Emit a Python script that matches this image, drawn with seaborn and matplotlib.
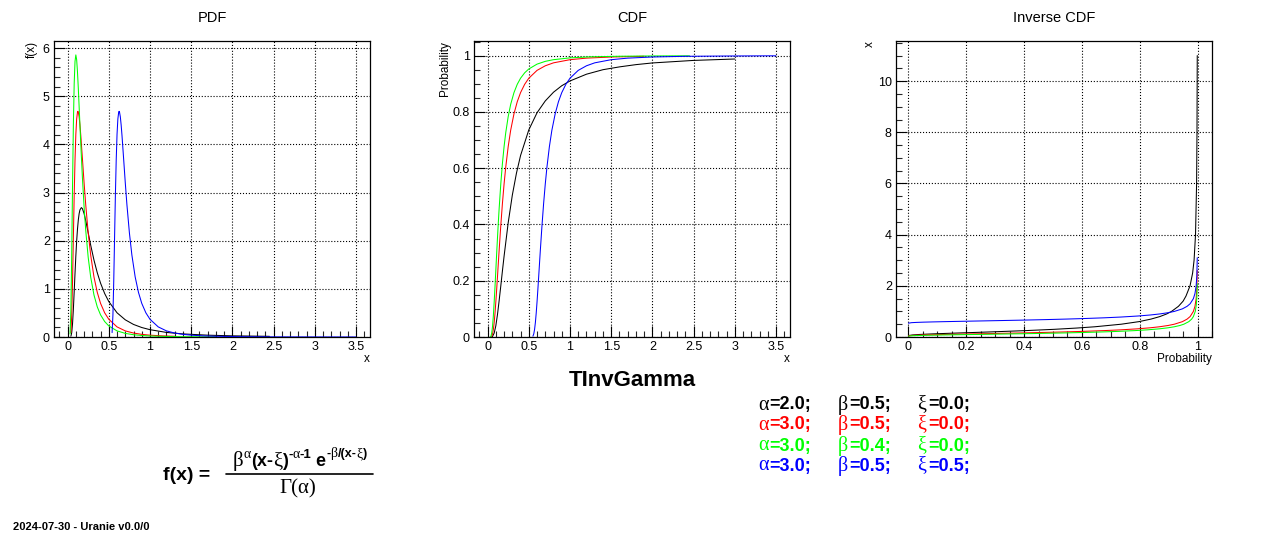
import pandas as pd
import matplotlib
matplotlib.use("Agg")
import matplotlib.pyplot as plt
import seaborn as sns
from matplotlib.lines import Line2D
from matplotlib.ticker import MultipleLocator, FormatStrFormatter

# Curve labels / colours (ROOT kBlack, kRed, kGreen, kBlue)
curves = ['a2_b05_x0', 'a3_b05_x0', 'a3_b04_x0', 'a3_b05_x05']
colors = ['#000000', '#ff0000', '#00ff00', '#0000ff']
alphas = ['2.0', '3.0', '3.0', '3.0']
betas = ['0.5', '0.5', '0.4', '0.5']
xis = ['0.0', '0.0', '0.0', '0.5']

# PDF values
pdf_black_x = [0.04, 0.05, 0.06, 0.07, 0.08, 0.09, 0.10, 0.11, 0.12, 0.13, 0.14, 0.15, 0.167, 0.18, 0.20,
               0.22, 0.25, 0.28, 0.32, 0.36, 0.40, 0.45, 0.5, 0.6, 0.7, 0.8, 0.9, 1.0, 1.2, 1.4, 1.7, 2.0, 2.45]
pdf_black_y = [0.015, 0.091, 0.278, 0.576, 0.942, 1.324, 1.684, 1.993, 2.242, 2.431, 2.562, 2.642, 2.689, 2.666, 2.565,
               2.418, 2.165, 1.910, 1.599, 1.336, 1.119, 0.903, 0.736, 0.503, 0.357, 0.261, 0.197, 0.152, 0.095, 0.064, 0.038, 0.024, 0.014]
pdf_red_x = [0.04, 0.05, 0.06, 0.07, 0.08, 0.09, 0.10, 0.11, 0.12, 0.125, 0.13, 0.14, 0.15, 0.16, 0.18, 0.20,
             0.22, 0.25, 0.28, 0.32, 0.36, 0.40, 0.45, 0.5, 0.6, 0.7, 0.8, 0.9, 1.0, 1.15, 1.3]
pdf_red_y = [0.091, 0.454, 1.157, 2.056, 2.945, 3.677, 4.211, 4.529, 4.672, 4.689, 4.674, 4.575, 4.404, 4.190, 3.702, 3.206,
             2.748, 2.165, 1.705, 1.249, 0.928, 0.699, 0.502, 0.368, 0.210, 0.127, 0.082, 0.055, 0.038, 0.023, 0.015]
pdf_green_x = [0.03, 0.04, 0.05, 0.06, 0.07, 0.08, 0.09, 0.10, 0.11, 0.12, 0.13, 0.14, 0.16, 0.18, 0.20, 0.22,
               0.25, 0.28, 0.32, 0.36, 0.40, 0.45, 0.5, 0.6, 0.7, 0.8, 0.9, 1.0, 1.2, 1.4, 1.8]
pdf_green_y = [0.064, 0.568, 1.718, 3.143, 4.395, 5.264, 5.726, 5.861, 5.761, 5.505, 5.166, 4.784, 4.008, 3.304, 2.707, 2.217,
               1.654, 1.248, 0.874, 0.627, 0.460, 0.321, 0.230, 0.127, 0.075, 0.047, 0.031, 0.021, 0.011, 0.006, 0.002]
pdf_blue_x = [0.54, 0.55, 0.56, 0.57, 0.58, 0.59, 0.60, 0.61, 0.62, 0.625, 0.63, 0.64, 0.65, 0.66, 0.68, 0.70,
              0.72, 0.75, 0.78, 0.82, 0.86, 0.90, 0.95, 1.0, 1.1, 1.2, 1.3, 1.4, 1.5, 1.65, 1.8, 2.1, 2.5, 3.0, 3.5]
pdf_blue_y = [0.091, 0.454, 1.157, 2.056, 2.945, 3.677, 4.211, 4.529, 4.672, 4.689, 4.674, 4.575, 4.404, 4.190, 3.702, 3.206,
              2.748, 2.165, 1.705, 1.249, 0.928, 0.699, 0.502, 0.368, 0.210, 0.127, 0.082, 0.055, 0.038, 0.023, 0.015, 0.007, 0.003, 0.0013, 0.0007]

# CDF values
cdf_black_x = [0.05, 0.06, 0.08, 0.10, 0.12, 0.14, 0.16, 0.18, 0.20, 0.25, 0.30, 0.35, 0.40, 0.5, 0.6, 0.7,
               0.8, 0.9, 1.0, 1.2, 1.4, 1.6, 1.8, 2.0, 2.5, 3.0]
cdf_black_y = [0.0005, 0.0022, 0.014, 0.040, 0.080, 0.129, 0.181, 0.235, 0.287, 0.406, 0.504, 0.582, 0.645, 0.736, 0.797, 0.839,
               0.870, 0.893, 0.910, 0.934, 0.950, 0.960, 0.968, 0.974, 0.983, 0.988]
cdf_red_x = [0.05, 0.06, 0.07, 0.08, 0.09, 0.10, 0.11, 0.12, 0.13, 0.14, 0.16, 0.18, 0.20, 0.22, 0.25, 0.28,
             0.32, 0.36, 0.40, 0.45, 0.5, 0.6, 0.7, 0.8, 1.0, 1.2, 1.5, 1.9]
cdf_red_y = [0.0028, 0.0106, 0.0266, 0.0517, 0.0849, 0.1247, 0.1684, 0.2146, 0.2615, 0.3079, 0.3958, 0.4748, 0.5438, 0.6032, 0.6767, 0.7347,
             0.7930, 0.8363, 0.8685, 0.8981, 0.9197, 0.9476, 0.9639, 0.9744, 0.9856, 0.9911, 0.9952, 0.9976]
cdf_green_x = [0.03, 0.04, 0.05, 0.06, 0.07, 0.08, 0.09, 0.10, 0.11, 0.12, 0.13, 0.14, 0.16, 0.18, 0.20, 0.22,
               0.25, 0.28, 0.32, 0.36, 0.40, 0.45, 0.5, 0.6, 0.7, 0.8, 1.0, 1.25, 1.6, 2.0, 2.45]
cdf_green_y = [0.0002, 0.0028, 0.0138, 0.0380, 0.0760, 0.1247, 0.1799, 0.2381, 0.2965, 0.3527, 0.4063, 0.4559, 0.5438, 0.6169, 0.6767, 0.7257,
               0.7834, 0.8267, 0.8685, 0.8981, 0.9197, 0.9390, 0.9526, 0.9698, 0.9797, 0.9856, 0.9921, 0.9957, 0.9978, 0.9988, 0.9993]
cdf_blue_x = [0.55, 0.56, 0.57, 0.58, 0.59, 0.60, 0.61, 0.62, 0.63, 0.64, 0.66, 0.68, 0.70, 0.72, 0.75, 0.78,
              0.82, 0.86, 0.90, 0.95, 1.0, 1.1, 1.2, 1.3, 1.5, 1.7, 2.0, 2.4, 3.0, 3.5]
cdf_blue_y = [0.0028, 0.0106, 0.0266, 0.0517, 0.0849, 0.1247, 0.1684, 0.2146, 0.2615, 0.3079, 0.3958, 0.4748, 0.5438, 0.6032, 0.6767, 0.7347,
              0.7930, 0.8363, 0.8685, 0.8981, 0.9197, 0.9476, 0.9639, 0.9744, 0.9856, 0.9911, 0.9952, 0.9976, 0.9988, 0.9994]

# Inverse CDF (probability -> x)
inv_black_p = [0.0, 0.0022, 0.014, 0.040, 0.080, 0.129, 0.181, 0.235, 0.287, 0.406, 0.504, 0.582, 0.645, 0.736, 0.797,
               0.839, 0.870, 0.893, 0.910, 0.934, 0.950, 0.960, 0.974, 0.983, 0.988, 0.993, 0.9967, 0.9981, 0.999]
inv_black_x = [0.05, 0.06, 0.08, 0.10, 0.12, 0.14, 0.16, 0.18, 0.20, 0.25, 0.30, 0.35, 0.40, 0.5, 0.6,
               0.7, 0.8, 0.9, 1.0, 1.2, 1.4, 1.6, 2.0, 2.5, 3.0, 4.0, 6.0, 8.0, 11.0]
inv_red_p = [0.0, 0.0106, 0.0266, 0.0517, 0.0849, 0.1247, 0.1684, 0.2146, 0.2615, 0.3079, 0.3958, 0.4748, 0.5438, 0.6032, 0.6767,
             0.7347, 0.7930, 0.8363, 0.8685, 0.8981, 0.9197, 0.9476, 0.9639, 0.9744, 0.9856, 0.9911, 0.9952, 0.9976, 0.999]
inv_red_x = [0.04, 0.06, 0.07, 0.08, 0.09, 0.10, 0.11, 0.12, 0.13, 0.14, 0.16, 0.18, 0.20, 0.22, 0.25,
             0.28, 0.32, 0.36, 0.40, 0.45, 0.5, 0.6, 0.7, 0.8, 1.0, 1.2, 1.5, 1.9, 2.6]
inv_green_p = [0.0, 0.0028, 0.0138, 0.0380, 0.0760, 0.1247, 0.1799, 0.2381, 0.2965, 0.3527, 0.4063, 0.4559, 0.5438, 0.6169, 0.6767,
               0.7257, 0.7834, 0.8267, 0.8685, 0.8981, 0.9197, 0.9390, 0.9526, 0.9698, 0.9797, 0.9856, 0.9921, 0.9957, 0.9978, 0.999]
inv_green_x = [0.03, 0.04, 0.05, 0.06, 0.07, 0.08, 0.09, 0.10, 0.11, 0.12, 0.13, 0.14, 0.16, 0.18, 0.20,
               0.22, 0.25, 0.28, 0.32, 0.36, 0.40, 0.45, 0.5, 0.6, 0.7, 0.8, 1.0, 1.25, 1.6, 2.08]
inv_blue_p = [0.0, 0.0106, 0.0266, 0.0517, 0.0849, 0.1247, 0.1684, 0.2146, 0.2615, 0.3079, 0.3958, 0.4748, 0.5438, 0.6032, 0.6767,
              0.7347, 0.7930, 0.8363, 0.8685, 0.8981, 0.9197, 0.9476, 0.9639, 0.9744, 0.9856, 0.9911, 0.9952, 0.9976, 0.999]
inv_blue_x = [0.54, 0.56, 0.57, 0.58, 0.59, 0.60, 0.61, 0.62, 0.63, 0.64, 0.66, 0.68, 0.70, 0.72, 0.75,
              0.78, 0.82, 0.86, 0.90, 0.95, 1.0, 1.1, 1.2, 1.3, 1.5, 1.7, 2.0, 2.4, 3.1]


def long_form(xs, ys):
    parts = []
    for name, x, y in zip(curves, xs, ys):
        parts.append(pd.DataFrame({'x': x, 'y': y, 'curve': name}))
    return pd.concat(parts, ignore_index=True)


pdf_df = long_form([pdf_black_x, pdf_red_x, pdf_green_x, pdf_blue_x],
                   [pdf_black_y, pdf_red_y, pdf_green_y, pdf_blue_y])
cdf_df = long_form([cdf_black_x, cdf_red_x, cdf_green_x, cdf_blue_x],
                   [cdf_black_y, cdf_red_y, cdf_green_y, cdf_blue_y])
inv_df = long_form([inv_black_p, inv_red_p, inv_green_p, inv_blue_p],
                   [inv_black_x, inv_red_x, inv_green_x, inv_blue_x])

sns.set_theme(style='white')
plt.rcParams['font.family'] = ['Liberation Sans', 'DejaVu Sans']
plt.rcParams['text.color'] = 'black'
plt.rcParams['axes.labelcolor'] = 'black'

SANS = 'Liberation Sans'
SERIF = 'Liberation Serif'
W, H = 1264, 540
fig = plt.figure(figsize=(W / 100, H / 100), dpi=100)
palette = dict(zip(curves, colors))

panels = [
    # data, left px, xlim, ylim, xmaj, xmin, ymaj, ymin, title, xlabel, ylabel, ylabel x
    (pdf_df, 54, (-0.165, 3.67), (0, 6.15), 0.5, 0.1, 1, 0.2, 'PDF', 'x', 'f(x)', -0.05),
    (cdf_df, 474, (-0.165, 3.67), (0, 1.052), 0.5, 0.1, 0.2, 0.05, 'CDF', 'x', 'Probability', -0.073),
    (inv_df, 896, (-0.043, 1.05), (0, 11.57), 0.2, 0.05, 2, 0.5, 'Inverse CDF', 'Probability', 'x', -0.063),
]

for data, left, xlim, ylim, xmaj, xmin, ymaj, ymin, title, xlab, ylab, ylx in panels:
    ax = fig.add_axes([left / W, (H - 337) / H, 316 / W, 296 / H])
    sns.lineplot(data=data, x='x', y='y', hue='curve', palette=palette, sort=False,
                 estimator=None, legend=False, linewidth=0.75, ax=ax)
    ax.set_xlim(*xlim)
    ax.set_ylim(*ylim)
    ax.xaxis.set_major_locator(MultipleLocator(xmaj))
    ax.xaxis.set_minor_locator(MultipleLocator(xmin))
    ax.yaxis.set_major_locator(MultipleLocator(ymaj))
    ax.yaxis.set_minor_locator(MultipleLocator(ymin))
    ax.xaxis.set_major_formatter(FormatStrFormatter('%g'))
    ax.yaxis.set_major_formatter(FormatStrFormatter('%g'))
    ax.tick_params(which='major', direction='in', length=8, width=0.8, labelsize=9,
                   top=False, right=False, bottom=True, left=True, pad=3, colors='black')
    ax.tick_params(which='minor', direction='in', length=4, width=0.8,
                   top=False, right=False, bottom=True, left=True)
    ax.grid(True, which='major', linestyle=':', color='black', linewidth=0.8)
    ax.set_axisbelow(True)
    for sp in ax.spines.values():
        sp.set_color('black')
        sp.set_linewidth(0.9)
    ax.set_xlabel(xlab, loc='right', fontsize=8.5)
    ax.set_ylabel(ylab, loc='top', fontsize=8.5)
    ax.xaxis.set_label_coords(1.0, -0.055)
    ax.yaxis.set_label_coords(ylx, 1.0)
    fig.text((left + 158) / W, 1 - 18 / H, title, ha='center', va='center', fontsize=10.5)

# Title of the distribution
fig.text(632 / W, 1 - 381 / H, 'TInvGamma', ha='center', va='center', fontsize=16, fontweight='bold')


def chain(pieces, x_px, y_px):
    """Write text pieces one after the other, centred on x_px, baseline at y_px."""
    renderer = fig.canvas.get_renderer()
    placed = []
    x = 0.0
    for s, fs, fam, wt, dy in pieces:
        t = fig.text(0, 0, s, fontsize=fs, family=fam, fontweight=wt, ha='left', va='baseline')
        placed.append((t, x, dy))
        x += t.get_window_extent(renderer).width
    start = x_px - x / 2
    for t, off, dy in placed:
        t.set_position(((start + off) / W, 1 - (y_px - dy) / H))


# Density formula
fig.text(163 / W, 1 - 476 / H, 'f(x) =', ha='left', va='center', fontsize=14, fontweight='bold')
chain([('β', 15, SERIF, 'normal', 0), ('α', 10, SERIF, 'normal', 8),
       ('(x-', 13, SANS, 'bold', 0), ('ξ', 15, SERIF, 'normal', 0), (')', 13, SANS, 'bold', 0),
       ('-', 9.5, SANS, 'bold', 8), ('α', 10, SERIF, 'normal', 8), ('-1', 9.5, SANS, 'bold', 8),
       (' e', 13, SANS, 'bold', 0), ('-', 9, SANS, 'bold', 9), ('β', 10, SERIF, 'normal', 9),
       ('/(x-', 9, SANS, 'bold', 9), ('ξ', 10, SERIF, 'normal', 9), (')', 9, SANS, 'bold', 9)],
      300, 466)
fig.add_artist(Line2D([226 / W, 373 / W], [1 - 474 / H, 1 - 474 / H], color='black', linewidth=1.2))
chain([('Γ(α)', 15, SERIF, 'normal', 0)], 298, 493)

# Parameter table
col_px = [758, 838, 917]
row_px = [405, 425, 446, 466]
for r, c in enumerate(colors):
    cells = [('α', alphas[r]), ('β', betas[r]), ('ξ', xis[r])]
    for (sym, val), cx in zip(cells, col_px):
        fig.text(cx / W, 1 - row_px[r] / H, sym, ha='left', va='center', fontsize=14.5,
                 color=c, family=SERIF)
        fig.text((cx + 11) / W, 1 - row_px[r] / H, '=' + val + ';', ha='left', va='center',
                 fontsize=13, color=c, fontweight='bold')

fig.text(13 / W, 1 - 527 / H, '2024-07-30 - Uranie v0.0/0', ha='left', va='center',
         fontsize=8, fontweight='bold')

fig.savefig('out.png', dpi=100)
